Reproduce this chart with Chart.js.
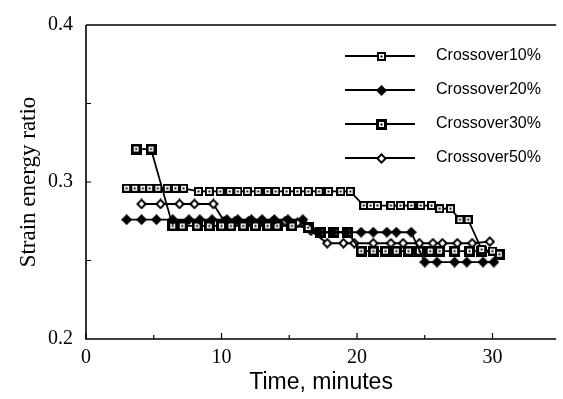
<!DOCTYPE html>
<html><head><meta charset="utf-8">
<script src="https://cdn.jsdelivr.net/npm/chart.js@4/dist/chart.umd.min.js"></script>
<style>html,body{margin:0;padding:0;background:#fff;overflow:hidden}#wrap{width:563px;height:399px;position:relative}</style>
</head><body><div id="wrap"><canvas id="c" width="563" height="399"></canvas></div>
<script>
// ---- data ----
const seriesNames = ["Crossover10%", "Crossover20%", "Crossover30%", "Crossover50%"];
const xTickValues = [0, 10, 20, 30];
const yTickValues = [0.2, 0.3, 0.4];

const t10 = [3.0,3.6,4.2,4.7,5.3,6.0,6.6,7.2, 8.3,9.1,9.9,10.6,11.2,11.9,12.7,13.4,14.0,14.8,15.6,16.4,17.2,17.9,18.8,19.5, 20.5,21.0,21.5,22.5,23.2,24.0,24.7,25.5, 26.1,26.9, 27.6,28.2, 29.2,30.0];
const v10 = [0.296,0.296,0.296,0.296,0.296,0.296,0.296,0.296, 0.294,0.294,0.294,0.294,0.294,0.294,0.294,0.294,0.294,0.294,0.294,0.294,0.294,0.294,0.294,0.294, 0.285,0.285,0.285,0.285,0.285,0.285,0.285,0.285, 0.283,0.283, 0.276,0.276, 0.257,0.256];

const t20 = [3.0,4.1,5.2,6.4,7.6,8.4,9.3,10.4,11.2,12.2,13.0,13.9,14.9,16.0, 17.2,18.2,19.2,20.3,21.2,22.2,22.9,24.0, 25.0,25.9,27.2,28.1,29.3,30.1];
const v20 = [0.276,0.276,0.276,0.276,0.276,0.276,0.276,0.276,0.276,0.276,0.276,0.276,0.276,0.276, 0.268,0.268,0.268,0.268,0.268,0.268,0.268,0.268, 0.249,0.249,0.249,0.249,0.249,0.249];

const t30 = [3.7,4.8, 6.4,7.1,8.2,9.1,10.0,10.7,11.6,12.5,13.4,14.1,15.2,16.4, 17.3,18.3,19.3, 20.3,21.2,22.1,22.9,23.8,24.6,25.4,26.1,27.2,28.3,29.2, 30.5];
const v30 = [0.321,0.321, 0.272,0.272,0.272,0.272,0.272,0.272,0.272,0.272,0.272,0.272,0.272,0.271, 0.268,0.268,0.268, 0.256,0.256,0.256,0.256,0.256,0.256,0.256,0.256,0.256,0.256,0.256, 0.254];

const t50 = [4.1,5.5,6.9,8.0,9.4, 10.2,11.0,12.0,12.9,13.8,14.7,15.6,16.6, 17.8,19.0,19.8,21.2,22.5,23.4,24.6,25.6,26.3,27.4,28.5,29.8];
const v50 = [0.286,0.286,0.286,0.286,0.286, 0.275,0.275,0.275,0.275,0.275,0.275,0.274,0.269, 0.261,0.261,0.261,0.261,0.261,0.261,0.261,0.261,0.261,0.261,0.261,0.262];

// ---- marker images ----
function mk(size, draw){const c=document.createElement('canvas');c.width=size;c.height=size;const g=c.getContext('2d');draw(g,size);return c;}
const m10 = mk(9,(g,s)=>{g.fillStyle='#000';g.fillRect(0,0,s,s);g.fillStyle='#fff';g.fillRect(2,2,5,5);g.fillStyle='#000';g.fillRect(3.5,3.5,2,2);});
const m30 = mk(11,(g,s)=>{g.fillStyle='#000';g.fillRect(0,0,s,s);g.fillStyle='#fff';g.fillRect(3,3,5,5);g.fillStyle='#000';g.fillRect(4.5,4.5,2,2);});
const dia=(g,s,i)=>{const h=s/2;g.beginPath();g.moveTo(h,i);g.lineTo(s-i,h);g.lineTo(h,s-i);g.lineTo(i,h);g.closePath();g.fill();};
const m20 = mk(11,(g,s)=>{g.fillStyle='#000';dia(g,s,0);});
const m50 = mk(11,(g,s)=>{g.fillStyle='#000';dia(g,s,0);g.fillStyle='#fff';dia(g,s,2.8);});
const markers=[m10,m20,m30,m50];

const pts=(t,v)=>t.map((x,i)=>({x:x,y:v[i]}));
const allT=[t10,t20,t30,t50], allV=[v10,v20,v30,v50];

const datasets = seriesNames.map((n,i)=>({
  label:n, data:pts(allT[i],allV[i]), borderColor:'#000', borderWidth:1.8,
  pointStyle:markers[i], pointRadius:5, tension:0, fill:false
}));

const serif='"Liberation Serif","Times New Roman",serif';
const sans='"Liberation Sans",Arial,sans-serif';

const framePlugin={id:'frame',afterDraw(ch){
  const g=ch.ctx, a=ch.chartArea, xs=ch.scales.x, ys=ch.scales.y;
  g.save();g.strokeStyle='#000';g.lineWidth=1.6;
  g.beginPath();g.moveTo(a.left,a.top);g.lineTo(a.right,a.top);g.moveTo(a.left,a.top);g.lineTo(a.left,a.bottom);g.lineTo(a.right,a.bottom);g.stroke();
  g.lineWidth=1.2;g.beginPath();
  [0,5,10,15,20,25,30].forEach(v=>{const p=xs.getPixelForValue(v);const L=(v%10===0)?6:4;g.moveTo(p,a.bottom);g.lineTo(p,a.bottom-L);});
  [0.25,0.3,0.35].forEach(v=>{const p=ys.getPixelForValue(v);const L=5;g.moveTo(a.left,p);g.lineTo(a.left+L,p);});
  g.stroke();
  // legend
  g.font='16px '+sans;g.fillStyle='#000';g.textBaseline='middle';g.textAlign='left';
  ch.data.datasets.forEach((d,i)=>{const y=56+i*34;g.lineWidth=1.8;g.beginPath();g.moveTo(345,y);g.lineTo(415,y);g.stroke();
    const im=d.pointStyle;g.drawImage(im,Math.round(381-im.width/2),Math.round(y-im.height/2));
    g.fillText(d.label,436,y);});
  g.restore();
}};

new Chart(document.getElementById('c'),{
  type:'line',
  data:{datasets:datasets},
  options:{
    responsive:false,animation:false,
    layout:{padding:{top:22,right:0,left:0,bottom:0}},
    plugins:{legend:{display:false},tooltip:{enabled:false}},
    scales:{
      x:{type:'linear',min:0,max:34.7,
        afterBuildTicks:s=>{s.ticks=xTickValues.map(v=>({value:v}));},
        afterFit:s=>{s.height=60;},
        border:{display:false},grid:{display:false,drawTicks:false},
        ticks:{color:'#000',font:{family:serif,size:20},padding:7,maxRotation:0},
        title:{display:true,text:'Time, minutes',color:'#000',font:{family:sans,size:23},padding:{top:0,bottom:3}}},
      y:{type:'linear',min:0.2,max:0.4,
        afterBuildTicks:s=>{s.ticks=yTickValues.map(v=>({value:v}));},
        afterFit:s=>{s.width=86;},
        border:{display:false},grid:{display:false,drawTicks:false},
        ticks:{color:'#000',font:{family:serif,size:20},padding:13,callback:v=>v.toFixed(1)},
        title:{display:true,text:'Strain energy ratio',color:'#000',font:{family:serif,size:23},padding:{top:15,bottom:0}}}
    }
  },
  plugins:[framePlugin]
});
</script></body></html>
